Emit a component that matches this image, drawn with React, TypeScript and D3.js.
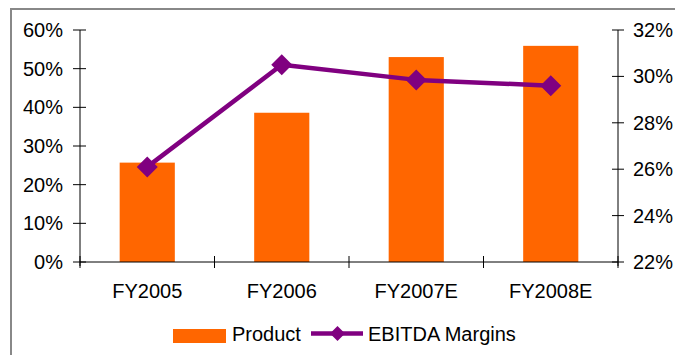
import React from "react";
import * as d3 from "d3";

const categories = ["FY2005", "FY2006", "FY2007E", "FY2008E"];
const productValues = [25.7, 38.6, 53.0, 55.9];
const ebitdaValues = [26.1, 30.5, 29.85, 29.6];
const leftTicks = [0, 10, 20, 30, 40, 50, 60];
const rightTicks = [22, 24, 26, 28, 30, 32];

const W = 675;
const H = 355;
const FONT = "'Liberation Sans', Arial, sans-serif";

export default function App() {
  const x0 = 80, x1 = 618, yTop = 30, yBot = 262;
  const x = d3.scaleBand<string>().domain(categories).range([x0, x1]).paddingInner(0.59).paddingOuter(0.295);
  const yL = d3.scaleLinear().domain([0, 60]).range([yBot, yTop]);
  const yR = d3.scaleLinear().domain([22, 32]).range([yBot, yTop]);
  const cx = (c: string) => (x(c) as number) + x.bandwidth() / 2;
  const line = d3.line<number>().x((_, i) => cx(categories[i])).y((d) => yR(d));
  const diamond = (px: number, py: number, r: number) =>
    `M${px},${py - r}L${px + r},${py}L${px},${py + r}L${px - r},${py}Z`;
  const step = (x1 - x0) / categories.length;
  const bounds = d3.range(categories.length + 1).map((i) => x0 + i * step);

  return (
    <div style={{ position: "absolute", left: 0, top: 0 }}>
      <svg width={W} height={H} style={{ display: "block", fontFamily: FONT }}>
        <rect x={0} y={0} width={W} height={H} fill="#fff" />
        <rect x={11} y={9} width={720} height={400} fill="none" stroke="#888" strokeWidth={2} />
        {categories.map((c, i) => (
          <rect key={c} x={x(c)} y={yL(productValues[i])} width={x.bandwidth()} height={yBot - yL(productValues[i])} fill="#FF6600" />
        ))}
        {/* left axis */}
        <line x1={x0} x2={x0} y1={yTop} y2={yBot + 4} stroke="#000" strokeWidth={1} />
        {leftTicks.map((t) => (
          <g key={t}>
            <line x1={x0 - 7} x2={x0 + 6} y1={yL(t)} y2={yL(t)} stroke="#000" />
            <text x={63} y={yL(t)} dy="0.35em" textAnchor="end" fontSize={20} fill="#000">{t}%</text>
          </g>
        ))}
        {/* right axis */}
        <line x1={x1} x2={x1} y1={yTop} y2={yBot + 4} stroke="#000" strokeWidth={1} />
        {rightTicks.map((t) => (
          <g key={t}>
            <line x1={x1 - 6} x2={x1 + 6} y1={yR(t)} y2={yR(t)} stroke="#000" />
            <text x={633} y={yR(t)} dy="0.35em" textAnchor="start" fontSize={20} fill="#000">{t}%</text>
          </g>
        ))}
        {/* x axis */}
        <line x1={x0} x2={x1} y1={yBot} y2={yBot} stroke="#000" />
        {bounds.map((b, i) => (
          <line key={i} x1={b} x2={b} y1={yBot - 6} y2={yBot + 6} stroke="#000" />
        ))}
        {categories.map((c) => (
          <text key={c} x={cx(c)} y={298} textAnchor="middle" fontSize={20} fill="#000">{c}</text>
        ))}
        {/* line */}
        <path d={line(ebitdaValues) || ""} fill="none" stroke="#800080" strokeWidth={4.5} strokeLinejoin="round" />
        {ebitdaValues.map((v, i) => (
          <path key={i} d={diamond(cx(categories[i]), yR(v), 10.5)} fill="#800080" />
        ))}
        {/* legend */}
        <rect x={173} y={329} width={53} height={14} fill="#FF6600" />
        <text x={232} y={341} fontSize={20} fill="#000">Product</text>
        <line x1={311} x2={363} y1={333.5} y2={333.5} stroke="#800080" strokeWidth={4.5} />
        <path d={diamond(337.5, 333.5, 7.5)} fill="#800080" />
        <text x={368} y={341} fontSize={20} fill="#000">EBITDA Margins</text>
      </svg>
    </div>
  );
}
